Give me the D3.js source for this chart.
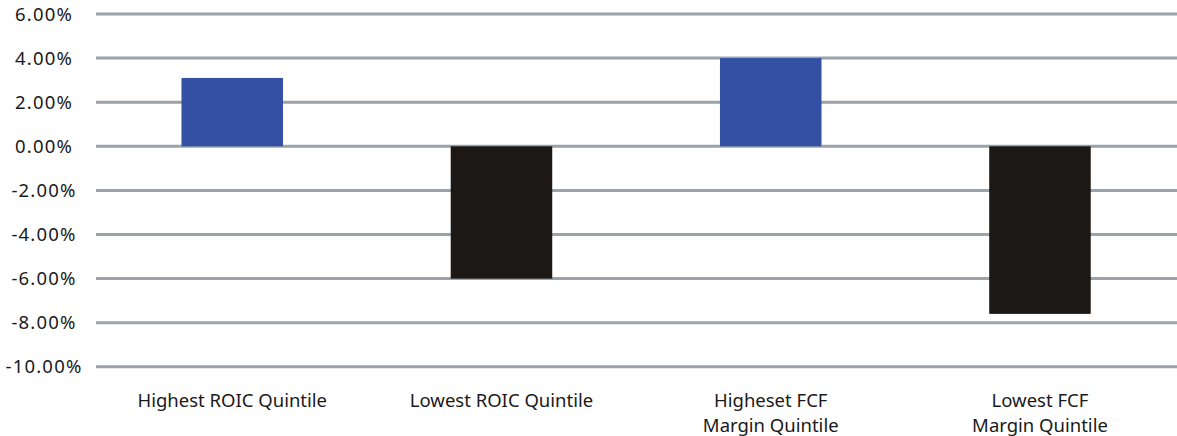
<!DOCTYPE html>
<html><head><meta charset="utf-8">
<script src="https://cdn.jsdelivr.net/npm/d3@7/dist/d3.min.js"></script>
<style>body{margin:0;background:#fff}svg{display:block}</style>
</head><body>
<svg id="c" width="1177" height="436"></svg>
<script>
const categories = [["Highest ROIC Quintile"],["Lowest ROIC Quintile"],["Higheset FCF","Margin Quintile"],["Lowest FCF","Margin Quintile"]];
const values = [0.031, -0.060, 0.040, -0.076];
const tickValues = [0.06,0.04,0.02,0,-0.02,-0.04,-0.06,-0.08,-0.10];
const barColors = ["#3350A4","#1C1815","#3350A4","#1C1815"];

const svg = d3.select("#c");
const font = "'Noto Sans', sans-serif";
const y = d3.scaleLinear().domain([-0.10, 0.06]).range([366.8, 14.0]);
const x = d3.scaleBand().domain(categories.map((d,i)=>i)).range([97.6,1174.6]).paddingInner(0.623).paddingOuter(0.3115);

svg.append("g").selectAll("line").data(tickValues).join("line")
  .attr("x1",96).attr("x2",1177)
  .attr("y1",d=>y(d)).attr("y2",d=>y(d))
  .attr("stroke","#9AA2AA").attr("stroke-width",3);

svg.append("g").selectAll("text").data(tickValues).join("text")
  .attr("x",44).attr("y",d=>y(d)).attr("dy","0.357em")
  .attr("text-anchor","middle").attr("font-family",font).attr("font-size",18.5)
  .attr("letter-spacing","1.2px").attr("fill","#1a1a1a")
  .text(d=>d3.format(".2%")(d).replace("−","-"));

svg.append("g").selectAll("rect").data(values).join("rect")
  .attr("x",(d,i)=>x(i)).attr("width",x.bandwidth())
  .attr("y",d=>y(Math.max(0,d))).attr("height",d=>Math.abs(y(d)-y(0)))
  .attr("fill",(d,i)=>barColors[i]);

const lab = svg.append("g").selectAll("text").data(categories).join("text")
  .attr("text-anchor","middle").attr("font-family",font).attr("font-size",18.5).attr("fill","#1a1a1a")
  .attr("transform",(d,i)=>`translate(${x(i)+x.bandwidth()/2},407)`);
lab.selectAll("tspan").data(d=>d).join("tspan").attr("x",0).attr("dy",(d,j)=>j?25:0).text(d=>d);
</script>
</body></html>
